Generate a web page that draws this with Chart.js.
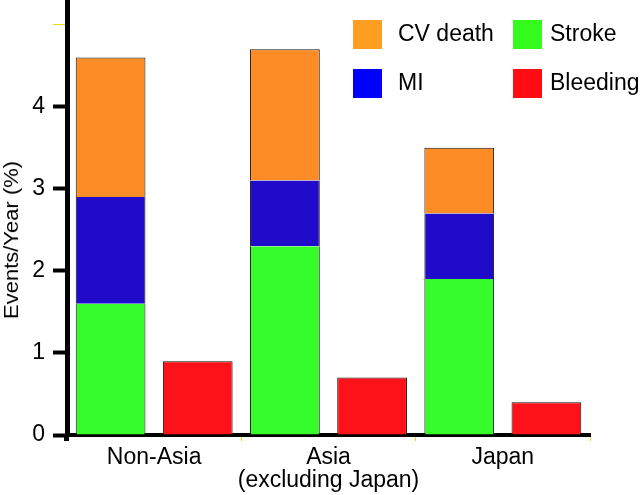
<!DOCTYPE html>
<html>
<head>
<meta charset="utf-8">
<script src="https://cdn.jsdelivr.net/npm/chart.js@4.4.1/dist/chart.umd.min.js"></script>
<style>
  body { margin: 0; background: #fff; }
  #wrap { position: relative; width: 640px; height: 495px; font-family: "Liberation Sans", Arial, sans-serif; }
  #ytitle { position: absolute; left: 11px; top: 240px; transform: translate(-50%, -50%) rotate(-90deg) scaleX(1.1);
            font-size: 20px; line-height: 22px; white-space: nowrap; color: #000; }
  .sq { position: absolute; width: 29px; height: 29px; }
  .lbl { position: absolute; font-size: 23px; line-height: 29px; color: #000; white-space: nowrap; }
</style>
</head>
<body>
<div id="wrap">
  <canvas id="chart" width="640" height="495"></canvas>
  <div id="ytitle">Events/Year (%)</div>
  <div id="legend"></div>
</div>
<script>
// chart data
const groups = ['Non-Asia', ['Asia', '(excluding Japan)'], 'Japan'];
const stroke = [1.6, 2.3, 1.9];
const mi = [1.3, 0.8, 0.8];
const cvDeath = [1.7, 1.6, 0.8];
const bleeding = [0.9, 0.7, 0.4];
const yTicks = [0, 1, 2, 3, 4];

const FONT = '"Liberation Sans", Arial, sans-serif';
const edge = '#111';

// legend laid out as in the figure: two columns, two rows
const legendItems = [
    { name: 'CV death', color: '#ff9e22', col: 0, row: 0 },
    { name: 'Stroke', color: '#35fb1c', col: 1, row: 0 },
    { name: 'MI', color: '#0000ff', col: 0, row: 1 },
    { name: 'Bleeding', color: '#ff0d12', col: 1, row: 1 }
];

function renderLegend() {
    const box = document.getElementById('legend');
    const sqX = [353, 513], txtX = [398, 550], rowY = [20, 69];
    legendItems.forEach(item => {
        const sq = document.createElement('div');
        sq.className = 'sq';
        sq.style.left = sqX[item.col] + 'px';
        sq.style.top = rowY[item.row] + 'px';
        sq.style.background = item.color;
        box.appendChild(sq);
        const t = document.createElement('div');
        t.className = 'lbl';
        t.style.left = txtX[item.col] + 'px';
        t.style.top = (rowY[item.row] - 1) + 'px';
        t.textContent = item.name;
        box.appendChild(t);
    });
}

function renderChart() {
    const ctx = document.getElementById('chart').getContext('2d');
    new Chart(ctx, {
        type: 'bar',
        data: {
            labels: groups,
            datasets: [
                { label: 'Stroke', data: stroke, stack: 'events', backgroundColor: '#35fc2a',
                  borderColor: edge, borderWidth: { left: 1, right: 1, top: 0, bottom: 0 } },
                { label: 'MI', data: mi, stack: 'events', backgroundColor: '#1f0bc9',
                  borderColor: edge, borderWidth: { left: 1, right: 1, top: 0, bottom: 0 } },
                { label: 'CV death', data: cvDeath, stack: 'events', backgroundColor: '#fd8c26',
                  borderColor: edge, borderWidth: { left: 1, right: 1, top: 1, bottom: 0 } },
                { label: 'Bleeding', data: bleeding, stack: 'bleed', backgroundColor: '#fe121a',
                  borderColor: edge, borderWidth: { left: 1, right: 1, top: 1, bottom: 0 } }
            ]
        },
        options: {
            responsive: false,
            animation: false,
            layout: { padding: { left: 0, right: 50, top: 0, bottom: 0 } },
            datasets: { bar: { categoryPercentage: 1.0, barPercentage: 0.8, borderSkipped: false } },
            plugins: { legend: { display: false }, tooltip: { enabled: false } },
            scales: {
                x: {
                    stacked: true,
                    offset: true,
                    border: { color: '#000', width: 4 },
                    grid: {
                        offset: true,
                        drawOnChartArea: false,
                        tickLength: 6,
                        tickColor: c => c.index === 0 ? '#000' : '#e6dc00',
                        tickWidth: c => c.index === 0 ? 5 : 1
                    },
                    ticks: {
                        color: '#000',
                        padding: 5,
                        maxRotation: 0,
                        autoSkip: false,
                        font: { family: FONT, size: 23, lineHeight: 1.0 }
                    },
                    afterFit: s => { s.height = 60; s.paddingLeft = 0; s.paddingRight = 0; }
                },
                y: {
                    stacked: true,
                    min: 0,
                    max: 5.3,
                    border: { color: '#000', width: 5 },
                    grid: {
                        drawOnChartArea: false,
                        tickLength: 14,
                        tickColor: c => (c.tick && c.tick.value === 5) ? '#e6dc00' : '#000',
                        tickWidth: c => (c.tick && c.tick.value === 5) ? 1 : 4
                    },
                    ticks: {
                        stepSize: 1,
                        includeBounds: false,
                        color: '#000',
                        padding: 8,
                        font: { family: FONT, size: 23 },
                        callback: v => yTicks.includes(v) ? v : ''
                    },
                    afterFit: s => { s.width = 67; s.paddingTop = 0; s.paddingBottom = 0; }
                }
            }
        }
    });
}

renderChart();
renderLegend();
</script>
</body>
</html>
